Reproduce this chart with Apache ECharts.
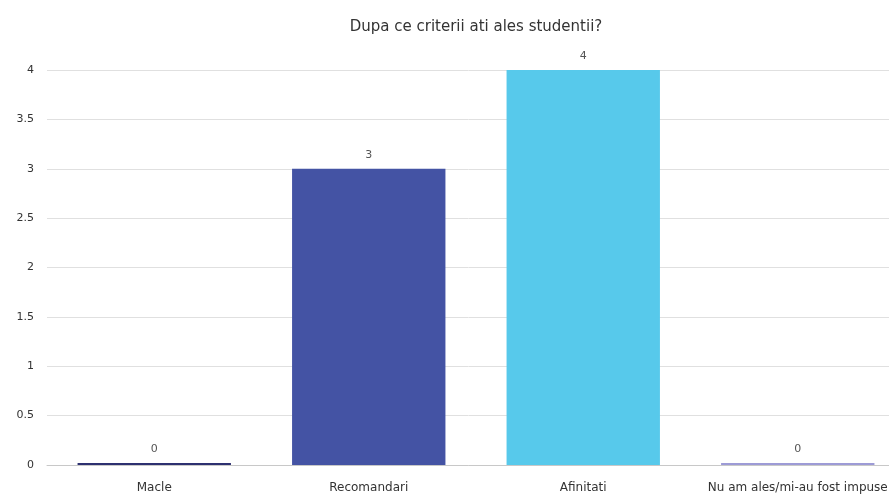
<!DOCTYPE html>
<html>
<head>
<meta charset="utf-8">
<script src="https://cdn.jsdelivr.net/npm/echarts@6/dist/echarts.min.js"></script>
<style>html,body{margin:0;padding:0;background:#fff}#c{width:889px;height:498px}</style>
</head>
<body>
<div id="c"></div>
<script>
const categories = ['Macle', 'Recomandari', 'Afinitati', 'Nu am ales/mi-au fost impuse'];
const values = [0, 3, 4, 0];
const barColors = ['#2d3070', '#4453a4', '#57c9eb', '#9d9bd6'];
const yTicks = { min: 0, max: 4, interval: 0.5 };

const chart = echarts.init(document.getElementById('c'));
chart.setOption({
  animation: false,
  title: {
    text: 'Dupa ce criterii ati ales studentii?',
    left: 471, top: 15, textAlign: 'center',
    textStyle: { fontFamily: 'DejaVu Sans', fontSize: 15, fontWeight: 'normal', color: '#333' }
  },
  grid: { left: 47, right: -16, top: 70, bottom: 33, containLabel: false, outerBoundsMode: 'none' },
  xAxis: {
    type: 'category',
    data: categories,
    axisLine: { show: true, lineStyle: { color: '#c8c8c8' } },
    axisTick: { show: false },
    axisLabel: { interval: 0, hideOverlap: false, fontFamily: 'DejaVu Sans', fontSize: 12, color: '#333', margin: 17 }
  },
  yAxis: {
    type: 'value',
    min: yTicks.min, max: yTicks.max, interval: yTicks.interval,
    axisLine: { show: false },
    axisTick: { show: false },
    axisLabel: { fontFamily: 'DejaVu Sans', fontSize: 11, color: '#333', margin: 13 },
    splitLine: { lineStyle: { color: '#e0e0e0' } }
  },
  series: [{
    type: 'bar',
    data: values.map((v, i) => ({ value: v, itemStyle: { color: barColors[i] } })),
    barWidth: '71.5%',
    barMinHeight: 2,
    label: { show: true, position: 'top', distance: 8, fontFamily: 'DejaVu Sans', fontSize: 11, color: '#555' }
  }]
});
</script>
</body>
</html>
